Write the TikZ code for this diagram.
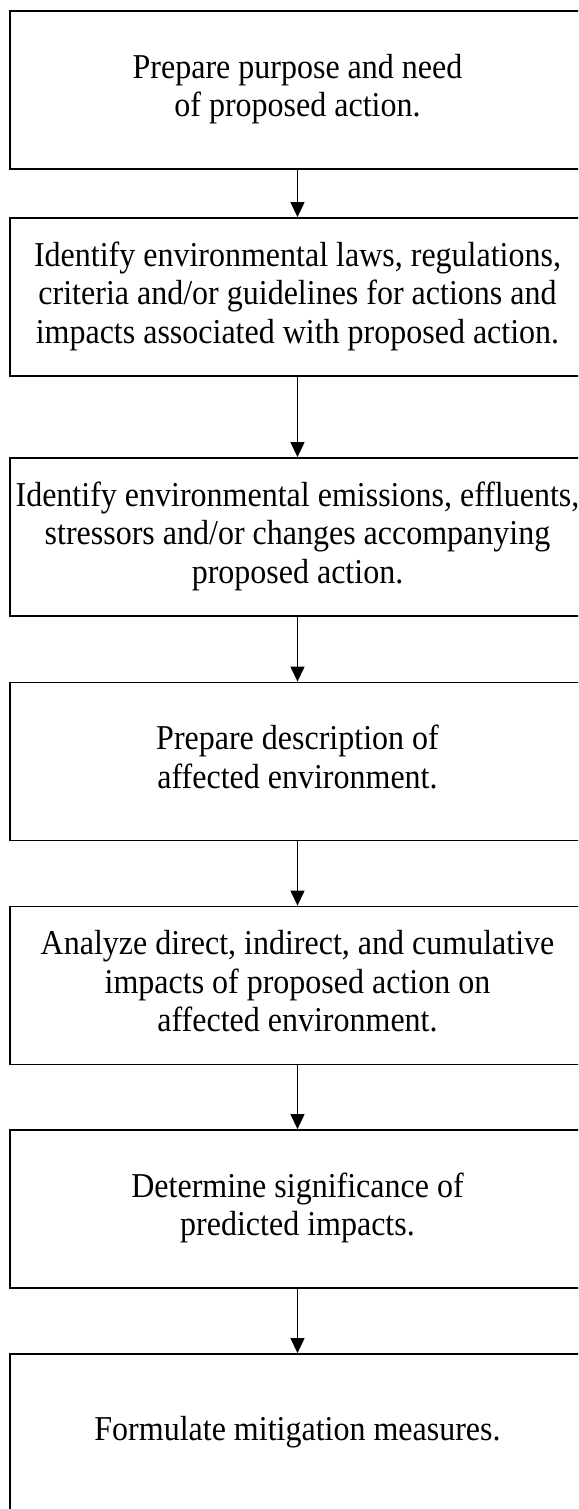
\documentclass[tikz,border=0pt]{standalone}
\usepackage{fontspec}
\setmainfont{Liberation Serif}
\usetikzlibrary{arrows.meta}
\newcommand\tallText[1]{\scalebox{1}[1.09]{\begin{tabular}{@{}c@{}}#1\end{tabular}}}
\begin{document}
\begin{tikzpicture}[x=1pt,y=-1pt,
  stepbox/.style={draw, line width=1.8pt, minimum width=575pt, minimum height=158pt,
    inner sep=0pt, align=center, font=\fontsize{32}{35.3}\selectfont},
  flow/.style={line width=1.2pt, -{Triangle[width=14pt,length=15pt]}}]
\useasboundingbox (0,0) rectangle (578,1509);
\clip (0,0) rectangle (578,1509);
\fill[white] (0,0) rectangle (578,1509);
\node[stepbox] (b1) at (297.5,90) {\tallText{Prepare purpose and need\\of proposed action.}};
\node[stepbox] (b2) at (297.5,297) {\tallText{Identify environmental laws, regulations,\\criteria and/or guidelines for actions and\\impacts associated with proposed action.}};
\node[stepbox] (b3) at (297.5,537) {\tallText{Identify environmental emissions, effluents,\\stressors and/or changes accompanying\\proposed action.}};
\node[stepbox] (b4) at (297.5,761.5) {\tallText{Prepare description of\\affected environment.}};
\node[stepbox] (b5) at (297.5,985.5) {\tallText{Analyze direct, indirect, and cumulative\\impacts of proposed action on\\affected environment.}};
\node[stepbox] (b6) at (297.5,1209) {\tallText{Determine significance of\\predicted impacts.}};
\node[stepbox] (b7) at (297.5,1433) {\tallText{Formulate mitigation measures.}};
\draw[flow] (b1.south) -- (b2.north);
\draw[flow] (b2.south) -- (b3.north);
\draw[flow] (b3.south) -- (b4.north);
\draw[flow] (b4.south) -- (b5.north);
\draw[flow] (b5.south) -- (b6.north);
\draw[flow] (b6.south) -- (b7.north);
\end{tikzpicture}
\end{document}
